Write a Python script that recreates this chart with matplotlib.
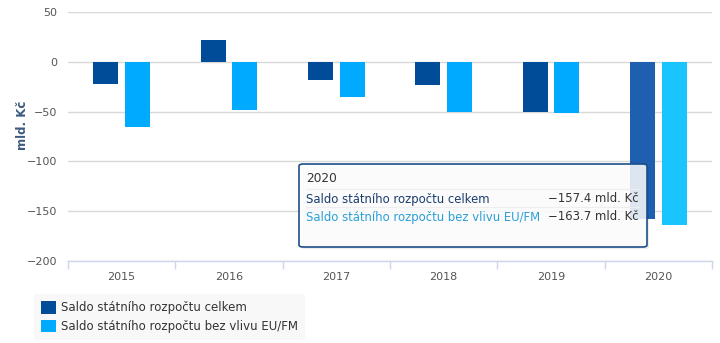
import matplotlib
matplotlib.use("Agg")
import matplotlib.pyplot as plt
import numpy as np
from matplotlib.patches import FancyBboxPatch

years = ["2015", "2016", "2017", "2018", "2019", "2020"]
saldo_celkem = [-21.8, 22.0, -18.0, -23.0, -50.0, -157.4]
saldo_bez_eu = [-65.0, -48.0, -35.0, -50.0, -51.0, -163.7]
series_names = ["Saldo státního rozpočtu celkem",
                "Saldo státního rozpočtu bez vlivu EU/FM"]
y_ticks = [50, 0, -50, -100, -150, -200]
highlight = "2020"

W, H = 720, 343
fig = plt.figure(figsize=(W / 100, H / 100), dpi=100)
plt.rcParams['font.family'] = ['DejaVu Sans']

def fx(px):
    return px / W

def fy(py):
    return 1 - py / H

ax = fig.add_axes([fx(68), fy(261), fx(712) - fx(68), fy(12) - fy(261)])

colors = ["#004c99", "#00aaff"]
hover_colors = ["#1f5fb0", "#1ac4ff"]
x = np.arange(len(years))
bw = 0.233
off = 0.149
hi = years.index(highlight)

for s, (vals, sign) in enumerate([(saldo_celkem, -1), (saldo_bez_eu, 1)]):
    cols = [hover_colors[s] if i == hi else colors[s] for i in range(len(years))]
    ax.bar(x + sign * off, vals, width=bw, color=cols, zorder=3,
           label=series_names[s])

ax.set_xlim(-0.5, len(years) - 0.5)
ax.set_ylim(-200, 50)
ax.set_yticks(y_ticks)
ax.set_yticklabels([str(t).replace("-", "−") for t in y_ticks])
ax.grid(axis="y", color="#d8d8d8", linewidth=1, zorder=0)
ax.set_axisbelow(True)
for sp in ["top", "right", "left"]:
    ax.spines[sp].set_visible(False)
ax.spines["bottom"].set_color("#ccd6eb")
ax.spines["bottom"].set_linewidth(1)

ax.set_xticks(x)
ax.set_xticklabels(years)
ax.set_xticks(np.arange(-0.5, len(years)), minor=True)
ax.tick_params(axis="x", which="major", length=0, pad=8, labelsize=8, labelcolor="#555555")
ax.tick_params(axis="x", which="minor", length=6, color="#ccd6eb", width=1)
ax.tick_params(axis="y", length=0, pad=8, labelsize=8, labelcolor="#555555")

fig.text(fx(22), fy(125), "mld. Kč", fontsize=8.5, fontweight="bold",
         color="#3c5a80", rotation=90, ha="center", va="center")

# Legend
leg = ax.legend(loc="upper left", bbox_to_anchor=(fx(34), fy(294)),
                bbox_transform=fig.transFigure, frameon=True, fontsize=8.5,
                handlelength=1.25, handleheight=1.25, handletextpad=0.45,
                labelspacing=0.45, borderpad=0.6, borderaxespad=0)
leg.get_frame().set_facecolor("#f7f7f7")
leg.get_frame().set_edgecolor("none")
for t in leg.get_texts():
    t.set_color("#333333")

# Tooltip for the highlighted year
tx0, ty0, tx1, ty1 = 299, 164, 647, 247
shadow = FancyBboxPatch((fx(tx0 + 2), fy(ty1 + 2)), fx(tx1) - fx(tx0), fy(ty0) - fy(ty1),
                        boxstyle="round,pad=0,rounding_size=0.006",
                        transform=fig.transFigure, facecolor="#000000", alpha=0.08,
                        edgecolor="none", zorder=9)
fig.add_artist(shadow)
box = FancyBboxPatch((fx(tx0), fy(ty1)), fx(tx1) - fx(tx0), fy(ty0) - fy(ty1),
                     boxstyle="round,pad=0,rounding_size=0.006",
                     transform=fig.transFigure, facecolor=(1, 1, 1, 0.85),
                     edgecolor="#1d4f86", linewidth=1.2, zorder=10)
fig.add_artist(box)
fig.text(fx(306), fy(179), highlight, fontsize=8.7, color="#333333",
         va="center", ha="left", zorder=11)
row_colors = ["#1a3d6e", "#2a9fd8"]
row_vals = [saldo_celkem[hi], saldo_bez_eu[hi]]
for r, (name, val) in enumerate(zip(series_names, row_vals)):
    yy = 199 + r * 18
    fig.text(fx(306), fy(yy), name, fontsize=8.4, color=row_colors[r],
             va="center", ha="left", zorder=11)
    fig.text(fx(639), fy(yy), f"{val:.1f} mld. Kč".replace("-", "−"),
             fontsize=8.4, color="#333333", va="center", ha="right", zorder=11)
    fig.add_artist(plt.Line2D([fx(306), fx(640)], [fy(yy - 10), fy(yy - 10)],
                              transform=fig.transFigure, color="#eeeeee",
                              linewidth=0.8, zorder=11))

fig.savefig("out.png", dpi=100)
